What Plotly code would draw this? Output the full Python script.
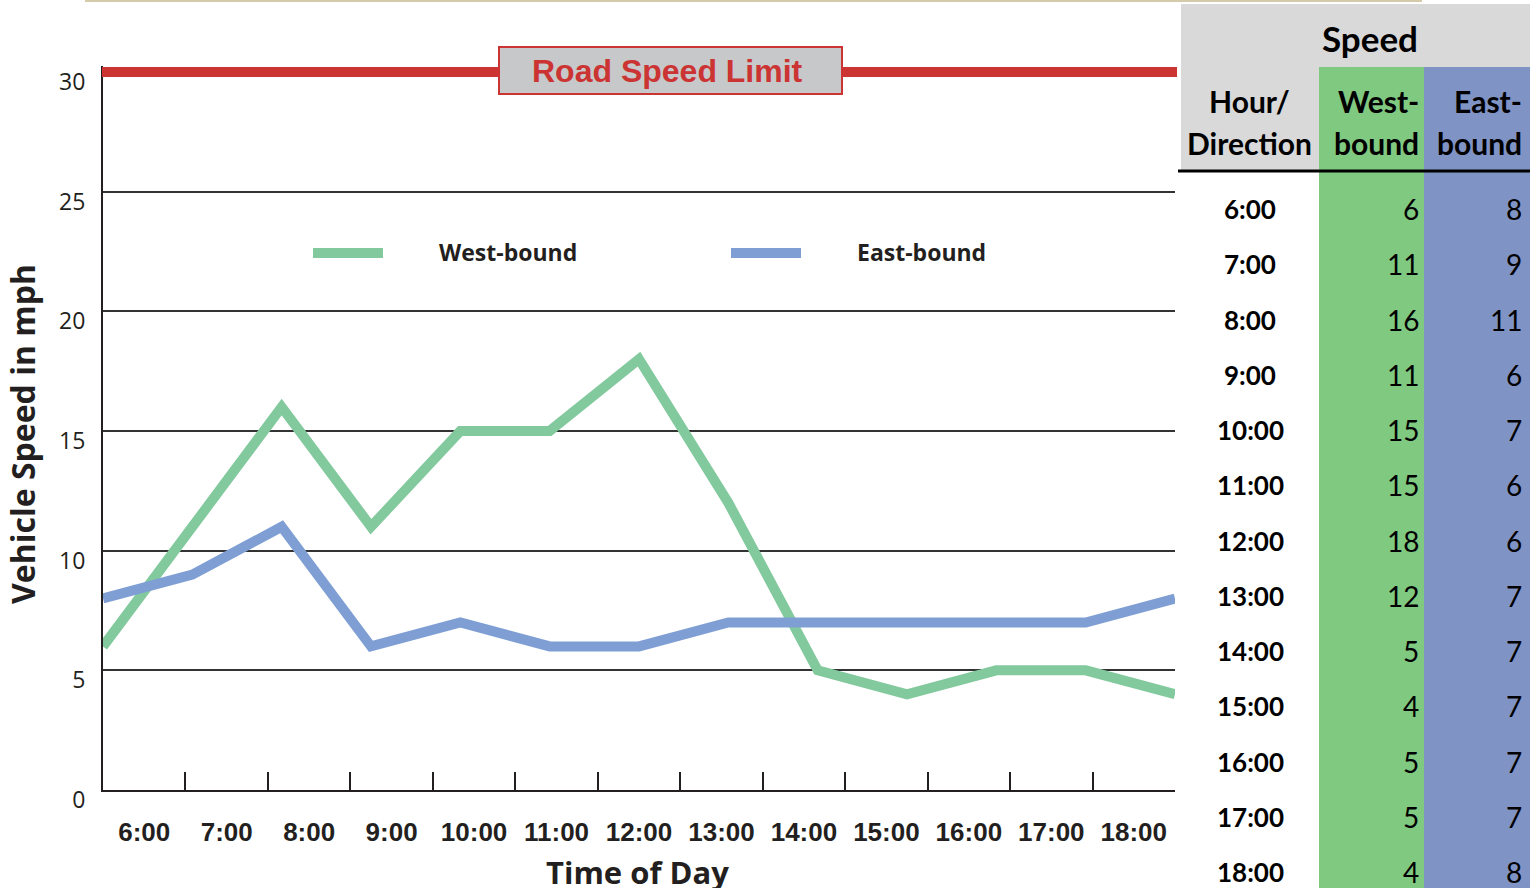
import plotly.graph_objects as go

# ---------------- data ----------------
hours = ["6:00", "7:00", "8:00", "9:00", "10:00", "11:00", "12:00",
         "13:00", "14:00", "15:00", "16:00", "17:00", "18:00"]
west_bound = [6, 11, 16, 11, 15, 15, 18, 12, 5, 4, 5, 5, 4]
east_bound = [8, 9, 11, 6, 7, 6, 6, 7, 7, 7, 7, 7, 8]
y_tick_values = [0, 5, 10, 15, 20, 25, 30]
speed_limit = 30

# ---------------- helpers ----------------
W, H = 1538, 888


def px(x):
    return x / W


def py(y):
    return 1 - y / H


GREEN_LINE = "#82c99d"
BLUE_LINE = "#7f9fd4"
RED = "#cc3333"
INK = "#231f20"
TBL_GREEN = "#80c980"
TBL_BLUE = "#7f93c5"
TBL_GRAY = "#d9d9d9"
MAIN_FONT = "Open Sans"
TICK_FONT = "Liberation Sans"
TABLE_FONT = "Lato"

fig = go.Figure()

fig.add_trace(go.Scatter(x=hours, y=west_bound, mode="lines", name="West-bound",
                         line=dict(color=GREEN_LINE, width=10), hoverinfo="skip",
                         showlegend=False))
fig.add_trace(go.Scatter(x=hours, y=east_bound, mode="lines", name="East-bound",
                         line=dict(color=BLUE_LINE, width=10), hoverinfo="skip",
                         showlegend=False))
# invisible carrier trace for the labelled category axis
fig.add_trace(go.Scatter(x=hours, y=west_bound, xaxis="x2", mode="lines",
                         line=dict(color="rgba(0,0,0,0)", width=0),
                         hoverinfo="skip", showlegend=False))

# y scale: 0 -> 790 px, 30 -> 72 px ; range extended slightly so the
# thick speed-limit rule is not clipped
y_top = 30.25
px_per_unit = (790 - 72) / 30.0
x_domain = [px(103), px(1175)]
fig.update_layout(
    width=W, height=H,
    margin=dict(l=0, r=0, t=0, b=0, autoexpand=False),
    paper_bgcolor="white", plot_bgcolor="white",
    showlegend=False,
    xaxis=dict(domain=x_domain, type="category", categoryorder="array",
               categoryarray=hours, range=[0, len(hours) - 1], automargin=False,
               showticklabels=False, showgrid=False, zeroline=False,
               showline=False, ticks=""),
    xaxis2=dict(domain=x_domain, overlaying="x", anchor="y", side="bottom",
                type="category", categoryorder="array", categoryarray=hours,
                range=[-0.5, len(hours) - 0.5], tickson="boundaries", automargin=False,
                ticks="inside", ticklen=18, tickwidth=2, tickcolor=INK,
                showline=True, linewidth=2, linecolor=INK, showgrid=False,
                zeroline=False, ticklabelstandoff=18,
                tickfont=dict(family=TICK_FONT, size=26, color=INK, weight="bold")),
    yaxis=dict(domain=[py(790), py(790 - y_top * px_per_unit)], range=[0, y_top],
               automargin=False,
               tickmode="array", tickvals=y_tick_values,
               showgrid=True, gridcolor="#333333", gridwidth=1.5,
               showline=True, linewidth=2, linecolor=INK, zeroline=False,
               ticks="", ticklabelshift=10, ticklabelstandoff=11,
               tickfont=dict(family=MAIN_FONT, size=23, color=INK)),
)

shapes = []
annotations = []


def ann(text, x, y, font, anchor="center", **kw):
    annotations.append(dict(text=text, xref="paper", yref="paper", x=px(x), y=py(y),
                            xanchor=anchor, yanchor="middle", showarrow=False,
                            font=font, **kw))


# top thin tan rule
shapes.append(dict(type="line", xref="paper", yref="paper", x0=px(85), x1=px(1422),
                   y0=py(1), y1=py(1), line=dict(color="#d6cba8", width=2)))

# speed limit line
shapes.append(dict(type="line", xref="paper", yref="y", x0=px(102), x1=px(1177),
                   y0=speed_limit, y1=speed_limit, line=dict(color=RED, width=10)))
# label box
shapes.append(dict(type="rect", xref="paper", yref="paper", x0=px(499), x1=px(842),
                   y0=py(94), y1=py(47), fillcolor="#c7c8ca",
                   line=dict(color=RED, width=2)))
ann("<b>Road Speed Limit</b>", 667, 71, dict(family=TICK_FONT, size=32, color=RED))

# legend
legend_items = [("West-bound", GREEN_LINE, 313), ("East-bound", BLUE_LINE, 731)]
for name, color, x0 in legend_items:
    shapes.append(dict(type="line", xref="paper", yref="paper", x0=px(x0), x1=px(x0 + 70),
                       y0=py(253), y1=py(253), line=dict(color=color, width=10)))
    ann("<b>%s</b>" % name, x0 + 124, 252, dict(family=MAIN_FONT, size=23, color=INK),
        anchor="left")

# axis titles
ann("<b>Vehicle Speed in mph</b>", 22, 434, dict(family=MAIN_FONT, size=32, color=INK),
    textangle=-90)
ann("<b>Time of Day</b>", 637, 872, dict(family=MAIN_FONT, size=31, color=INK))

# ---------------- table ----------------
shapes.append(dict(type="rect", xref="paper", yref="paper", x0=px(1181), x1=px(1530),
                   y0=py(67), y1=py(4), fillcolor=TBL_GRAY, line=dict(width=0)))
shapes.append(dict(type="rect", xref="paper", yref="paper", x0=px(1181), x1=px(1319),
                   y0=py(171), y1=py(67), fillcolor=TBL_GRAY, line=dict(width=0)))
shapes.append(dict(type="rect", xref="paper", yref="paper", x0=px(1319), x1=px(1424),
                   y0=py(888), y1=py(67), fillcolor=TBL_GREEN, line=dict(width=0)))
shapes.append(dict(type="rect", xref="paper", yref="paper", x0=px(1424), x1=px(1530),
                   y0=py(888), y1=py(67), fillcolor=TBL_BLUE, line=dict(width=0)))
shapes.append(dict(type="line", xref="paper", yref="paper", x0=px(1178), x1=px(1530),
                   y0=py(171), y1=py(171), line=dict(color="black", width=3)))

hdr_font = dict(family=TABLE_FONT, size=30, color="black", weight="bold")
hour_font = dict(family=TABLE_FONT, size=26, color="black", weight="bold")
val_font = dict(family=TABLE_FONT, size=28, color="black")

ann("Speed", 1370, 38, dict(family=TABLE_FONT, size=35, color="black", weight="bold"))
ann("Hour/", 1249, 101, hdr_font)
ann("Direction", 1249, 143, hdr_font)
ann("West-", 1421, 101, hdr_font, "right")
ann("bound", 1421, 143, hdr_font, "right")
ann("East-", 1524, 101, hdr_font, "right")
ann("bound", 1524, 143, hdr_font, "right")

row0, step = 209, 55.25
for i, h in enumerate(hours):
    yy = row0 + i * step
    ann(h, 1250, yy, hour_font)
    ann(str(west_bound[i]), 1421, yy, val_font, "right")
    ann(str(east_bound[i]), 1524, yy, val_font, "right")

fig.update_layout(shapes=shapes, annotations=annotations)
fig.write_html("out.html", config={"displayModeBar": False},
               post_script="document.body.style.margin='0px';"
                           "document.body.style.overflow='hidden';")
